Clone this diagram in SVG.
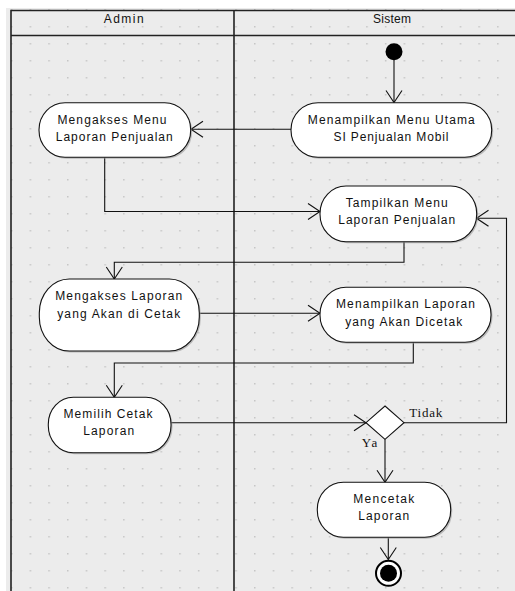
<svg xmlns="http://www.w3.org/2000/svg" width="515" height="591" viewBox="0 0 515 591">
  <defs>
    <pattern id="grid" patternUnits="userSpaceOnUse" x="29.6" y="26" width="18.7" height="17">
      <rect x="0" y="0" width="1.5" height="1.5" fill="#c6c6c6"/>
    </pattern>
    <marker id="arr" viewBox="0 0 14 18" refX="13" refY="9" markerWidth="14" markerHeight="18" markerUnits="userSpaceOnUse" orient="auto">
      <path d="M1,1 L13,9 L1,17" fill="none" stroke="#111" stroke-width="1.1"/>
    </marker>
    <style>
      .lane{fill:none;stroke:#222;stroke-width:1.6}
      .node{fill:#fff;stroke:#111;stroke-width:1.1}
      .shadow{fill:#9a9a9a;stroke:none;opacity:0.6}
      .lbl{font-family:"Liberation Sans",Arial,sans-serif;font-size:12px;fill:#111;text-anchor:middle}
      .guard{font-family:"Liberation Serif","Times New Roman",serif;font-size:13px;fill:#111}
      .edge{fill:none;stroke:#111;stroke-width:1.1;marker-end:url(#arr)}
    </style>
  </defs>

  <!-- background -->
  <rect x="0" y="0" width="515" height="591" fill="#fff"/>
  <rect x="6" y="8" width="509" height="583" fill="#ececec"/>
  <rect x="6" y="8" width="509" height="583" fill="url(#grid)"/>

  <!-- swimlanes -->
  <g id="lanes">
    <path class="lane" d="M11,591 V10.5 H515"/>
    <path class="lane" d="M11,35.5 H515"/>
    <path class="lane" d="M234,10.5 V591"/>
    <text class="lbl" x="123.7" y="23" textLength="40" lengthAdjust="spacing">Admin</text>
    <text class="lbl" x="392" y="23" textLength="38" lengthAdjust="spacing">Sistem</text>
  </g>

  <!-- connectors -->
  <g id="connectors">
    <path class="edge" d="M394,60 V102.5"/>
    <path class="edge" d="M291,129.3 H191"/>
    <path class="edge" d="M104.7,157.3 V211.5 H320"/>
    <path class="edge" d="M404,241.7 V262.3 H114.3 V279"/>
    <path class="edge" d="M199.3,313.3 H320"/>
    <path class="edge" d="M413.3,342.3 V363 H114.3 V397.3"/>
    <path class="edge" d="M171,422.7 H366"/>
    <path class="edge" d="M404,422.7 H506.5 V218.3 H476.5"/>
    <path class="edge" d="M385,439.3 V482.3"/>
    <path class="edge" d="M388.3,537.3 V559.5"/>
    <text class="guard" x="409.3" y="417.3" textLength="33" lengthAdjust="spacing">Tidak</text>
    <text class="guard" x="361.7" y="446.7" textLength="15.6" lengthAdjust="spacing">Ya</text>
  </g>

  <!-- nodes -->
  <g id="start">
    <circle cx="394" cy="51.7" r="8.5" fill="#000"/>
  </g>

  <g id="n_menu_utama">
    <rect class="shadow" x="292.5" y="104.2" width="200.7" height="54.6" rx="27" ry="27"/>
    <rect class="node" x="291" y="102.7" width="200.7" height="54.6" rx="27" ry="27"/>
    <text class="lbl" x="391.3" y="123.5" textLength="167" lengthAdjust="spacing">Menampilkan Menu Utama</text>
    <text class="lbl" x="391" y="140.5" textLength="115" lengthAdjust="spacing">SI Penjualan Mobil</text>
  </g>

  <g id="n_akses_menu">
    <rect class="shadow" x="40.5" y="104.2" width="151.7" height="54.6" rx="26" ry="27"/>
    <rect class="node" x="39" y="102.7" width="151.7" height="54.6" rx="26" ry="27"/>
    <text class="lbl" x="112" y="124" textLength="109" lengthAdjust="spacing">Mengakses Menu</text>
    <text class="lbl" x="114.2" y="141" textLength="117" lengthAdjust="spacing">Laporan Penjualan</text>
  </g>

  <g id="n_tampil_menu">
    <rect class="shadow" x="321.5" y="187.5" width="156.7" height="55.7" rx="26" ry="27.5"/>
    <rect class="node" x="320" y="186" width="156.7" height="55.7" rx="26" ry="27.5"/>
    <text class="lbl" x="396.7" y="207" textLength="102" lengthAdjust="spacing">Tampilkan Menu</text>
    <text class="lbl" x="396.7" y="224" textLength="117" lengthAdjust="spacing">Laporan Penjualan</text>
  </g>

  <g id="n_akses_laporan">
    <rect class="shadow" x="40.8" y="280.5" width="160" height="72" rx="30" ry="34"/>
    <rect class="node" x="39.3" y="279" width="160" height="72" rx="30" ry="34"/>
    <text class="lbl" x="118.7" y="300" textLength="127" lengthAdjust="spacing">Mengakses Laporan</text>
    <text class="lbl" x="118.7" y="317.5" textLength="123" lengthAdjust="spacing">yang Akan di Cetak</text>
  </g>

  <g id="n_tampil_laporan">
    <rect class="shadow" x="321.5" y="288.8" width="171" height="55" rx="26" ry="27"/>
    <rect class="node" x="320" y="287.3" width="171" height="55" rx="26" ry="27"/>
    <text class="lbl" x="405.5" y="308.3" textLength="139" lengthAdjust="spacing">Menampilkan Laporan</text>
    <text class="lbl" x="403.7" y="325.5" textLength="117" lengthAdjust="spacing">yang Akan Dicetak</text>
  </g>

  <g id="n_pilih_cetak">
    <rect class="shadow" x="49.8" y="398.8" width="122.7" height="55.4" rx="25" ry="27"/>
    <rect class="node" x="48.3" y="397.3" width="122.7" height="55.4" rx="25" ry="27"/>
    <text class="lbl" x="108" y="418.3" textLength="89" lengthAdjust="spacing">Memilih Cetak</text>
    <text class="lbl" x="108.7" y="435" textLength="51" lengthAdjust="spacing">Laporan</text>
  </g>

  <g id="decision">
    <polygon points="385,406 404,422.7 385,439.3 366,422.7" fill="#fff" stroke="#111" stroke-width="1.1"/>
  </g>

  <g id="n_cetak">
    <rect class="shadow" x="318.8" y="483.8" width="133.4" height="55" rx="26" ry="27"/>
    <rect class="node" x="317.3" y="482.3" width="133.4" height="55" rx="26" ry="27"/>
    <text class="lbl" x="383.8" y="502.7" textLength="61" lengthAdjust="spacing">Mencetak</text>
    <text class="lbl" x="383.7" y="519.5" textLength="51" lengthAdjust="spacing">Laporan</text>
  </g>

  <g id="end">
    <circle cx="388.5" cy="573.3" r="12.5" fill="#fff" stroke="#000" stroke-width="2"/>
    <circle cx="388.5" cy="573.3" r="8.5" fill="#000"/>
  </g>
</svg>
